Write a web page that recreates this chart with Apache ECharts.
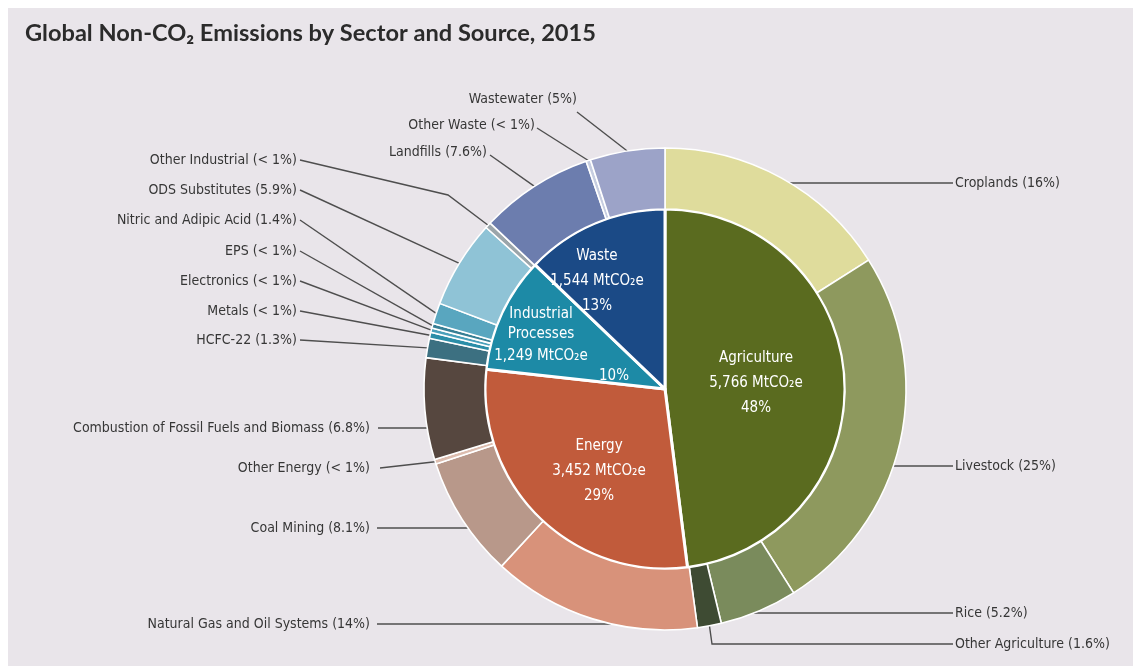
<!DOCTYPE html>
<html>
<head>
<meta charset="utf-8">
<script src="https://cdn.jsdelivr.net/npm/echarts@6/dist/echarts.min.js"></script>
<style>
  html, body { margin: 0; padding: 0; background: #ffffff; }
  #chart { width: 1133px; height: 666px; }
</style>
</head>
<body>
<div id="chart"></div>
<script>
// ---- Data -------------------------------------------------------------
// Sectors (inner pie): emissions in MtCO2e and share of total
const sectorNames  = ['Agriculture', 'Energy', 'Industrial Processes', 'Waste'];
const sectorValues = [5766, 3452, 1249, 1544];
const sectorShares = ['48%', '29%', '10%', '13%'];

// Sources (outer ring), clockwise from 12 o'clock, share of total (%)
const sourceNames = [
  'Croplands', 'Livestock', 'Rice', 'Other Agriculture',
  'Natural Gas and Oil Systems', 'Coal Mining', 'Other Energy', 'Combustion of Fossil Fuels and Biomass',
  'HCFC-22', 'Metals', 'Electronics', 'EPS', 'Nitric and Adipic Acid', 'ODS Substitutes', 'Other Industrial',
  'Landfills', 'Other Waste', 'Wastewater'
];
const sourceValues = [
  16, 25, 5.2, 1.6,
  14, 8.1, 0.3, 6.8,
  1.3, 0.4, 0.3, 0.3, 1.4, 5.9, 0.4,
  7.6, 0.3, 5
];
const sourceShareText = [
  '16%', '25%', '5.2%', '1.6%',
  '14%', '8.1%', '< 1%', '6.8%',
  '1.3%', '< 1%', '< 1%', '< 1%', '1.4%', '5.9%', '< 1%',
  '7.6%', '< 1%', '5%'
];

// ---- Styling -----------------------------------------------------------
const sectorColors = ['#5a6b1f', '#c15b3b', '#1d8aa6', '#1b4a86'];
const sourceColors = [
  '#dfdc9c', '#8e995e', '#7a8b5c', '#3e4b33',
  '#d8927a', '#b8988a', '#dcbcae', '#56473f',
  '#3c7081', '#2b8ea8', '#4aa0ba', '#377f95', '#59a6bf', '#8fc3d6', '#9ba5aa',
  '#6c7dae', '#c6cde0', '#9ca3c8'
];

const CX = 665, CY = 389, R_IN = 180, R_OUT = 241;
const NARROW = "'Liberation Sans Narrow', 'DejaVu Sans Condensed', 'Noto Sans', sans-serif";
const TEXT = '#363636';
const LINE = '#4e4e4e';

// Where each source label sits; 'flat' leaders run horizontally from the ring edge
const sourceLabelSpots = {
  'Croplands':                              { x: 955, y: 183, align: 'left',  end: [953, 183], flat: 1 },
  'Livestock':                              { x: 955, y: 466, align: 'left',  end: [953, 466], flat: 1 },
  'Rice':                                   { x: 955, y: 613, align: 'left',  end: [953, 613], flat: 1 },
  'Other Agriculture':                      { x: 955, y: 644, align: 'left',  end: [953, 644], bends: [[712, 644]] },
  'Natural Gas and Oil Systems':            { x: 370, y: 624, align: 'right', end: [377, 624], flat: -1 },
  'Coal Mining':                            { x: 370, y: 528, align: 'right', end: [377, 528], flat: -1 },
  'Other Energy':                           { x: 370, y: 468, align: 'right', end: [380, 468] },
  'Combustion of Fossil Fuels and Biomass': { x: 370, y: 428, align: 'right', end: [378, 428], flat: -1 },
  'HCFC-22':                                { x: 297, y: 340, align: 'right', end: [300, 340] },
  'Metals':                                 { x: 297, y: 311, align: 'right', end: [300, 311] },
  'Electronics':                            { x: 297, y: 281, align: 'right', end: [300, 281] },
  'EPS':                                    { x: 297, y: 251, align: 'right', end: [300, 251] },
  'Nitric and Adipic Acid':                 { x: 297, y: 220, align: 'right', end: [300, 220] },
  'ODS Substitutes':                        { x: 297, y: 190, align: 'right', end: [300, 190] },
  'Other Industrial':                       { x: 297, y: 160, align: 'right', end: [300, 160], bends: [[448, 195]] },
  'Landfills':                              { x: 487, y: 152, align: 'right', end: [490, 155] },
  'Other Waste':                            { x: 535, y: 125, align: 'right', end: [537, 128] },
  'Wastewater':                             { x: 577, y: 99,  align: 'right', end: [577, 112] }
};

// Centres of the sector labels inside the pie
const sectorLabelSpots = {
  'Agriculture':          [756, 383],
  'Energy':               [599, 471],
  'Industrial Processes': [541, 344],
  'Waste':                [597, 281]
};

// ---- Series data -------------------------------------------------------
const sectorData = sectorNames.map((n, i) => ({
  name: n, value: sectorValues[i], itemStyle: { color: sectorColors[i] }
}));
const sourceData = sourceNames.map((n, i) => ({
  name: n, value: sourceValues[i], itemStyle: { color: sourceColors[i] }
}));

function sectorLabel(p) {
  const i = p.dataIndex;
  const amount = sectorValues[i].toLocaleString('en-US') + ' MtCO\u2082e';
  if (sectorNames[i] === 'Industrial Processes') {
    return '{t|Industrial}\n{t|Processes}\n{v|' + amount + '}\n{p|' + sectorShares[i] + '}';
  }
  return '{n|' + sectorNames[i] + '}\n{n|' + amount + '}\n{n|' + sectorShares[i] + '}';
}

function sectorLayout(p) {
  const s = sectorLabelSpots[sectorNames[p.dataIndex]];
  return { x: s[0], y: s[1], align: 'center', verticalAlign: 'middle' };
}

function sourceLayout(p) {
  const spot = sourceLabelSpots[sourceNames[p.dataIndex]];
  let start = p.labelLinePoints ? p.labelLinePoints[0] : spot.end;
  if (spot.flat) {
    const dy = spot.y - CY;
    const dx = Math.sqrt(R_OUT * R_OUT - dy * dy);
    start = [CX + spot.flat * dx, spot.y];
  }
  const pts = [start].concat(spot.bends || [], [spot.end]);
  return {
    x: spot.x, y: spot.y, align: spot.align, verticalAlign: 'middle',
    labelLinePoints: pts
  };
}

const chart = echarts.init(document.getElementById('chart'), null, { renderer: 'canvas' });

chart.setOption({
  animation: false,
  backgroundColor: '#ffffff',
  graphic: [
    {
      type: 'rect', z: -10, silent: true,
      shape: { x: 8, y: 8, width: 1125, height: 658 },
      style: { fill: '#e9e5ea' }
    }
  ],
  title: {
    text: 'Global Non-CO\u2082 Emissions by Sector and Source, 2015',
    left: 20, top: 16,
    textStyle: { fontFamily: 'Lato, "Open Sans", sans-serif', fontWeight: 'bold', fontSize: 23.6, color: '#2b2b2b' }
  },
  series: [
    {
      name: 'Sector',
      type: 'pie',
      center: [CX, CY],
      radius: [0, R_IN],
      startAngle: 90,
      clockwise: true,
      avoidLabelOverlap: false,
      itemStyle: { borderColor: '#ffffff', borderWidth: 3 },
      label: {
        show: true,
        position: 'inside',
        formatter: sectorLabel,
        color: '#ffffff',
        fontFamily: NARROW,
        fontSize: 15,
        rich: {
          n: { color: '#ffffff', fontFamily: NARROW, fontSize: 15, lineHeight: 25 },
          t: { color: '#ffffff', fontFamily: NARROW, fontSize: 15, lineHeight: 20 },
          v: { color: '#ffffff', fontFamily: NARROW, fontSize: 15, lineHeight: 24 },
          p: { color: '#ffffff', fontFamily: NARROW, fontSize: 15, lineHeight: 16, padding: [0, 0, 0, 146] }
        }
      },
      labelLayout: sectorLayout,
      emphasis: { disabled: true },
      data: sectorData
    },
    {
      name: 'Source',
      type: 'pie',
      center: [CX, CY],
      radius: [R_IN, R_OUT],
      startAngle: 90,
      clockwise: true,
      avoidLabelOverlap: false,
      itemStyle: { borderColor: '#ffffff', borderWidth: 1.6 },
      label: {
        show: true,
        position: 'outside',
        formatter: p => p.name + ' (' + sourceShareText[p.dataIndex] + ')',
        color: TEXT,
        fontFamily: NARROW,
        fontSize: 14
      },
      labelLine: {
        show: true,
        length: 10,
        length2: 10,
        lineStyle: { color: LINE, width: 1.4 }
      },
      labelLayout: sourceLayout,
      emphasis: { disabled: true },
      data: sourceData
    }
  ]
});
</script>
</body>
</html>
